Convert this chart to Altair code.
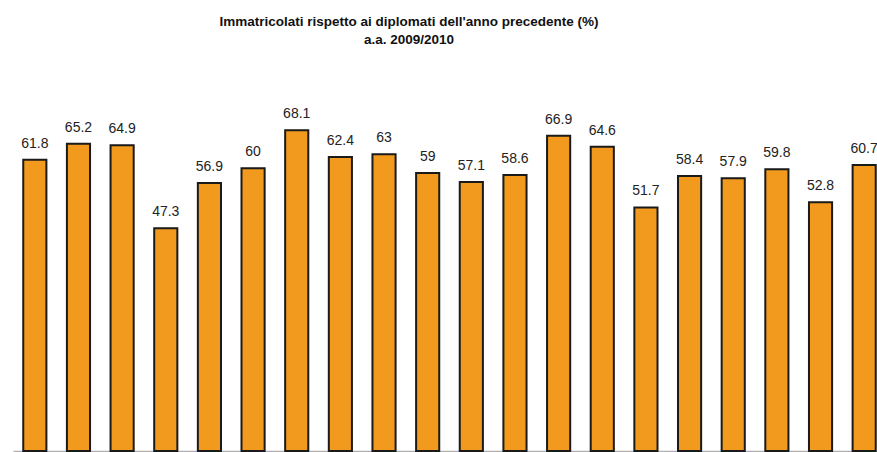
import altair as alt
import pandas as pd

regioni = ["Piemonte", "Valle d'Aosta", "Lombardia", "Trentino-Alto Adige", "Veneto",
           "Friuli-Venezia Giulia", "Liguria", "Emilia-Romagna", "Toscana", "Umbria",
           "Marche", "Lazio", "Abruzzo", "Molise", "Campania", "Puglia", "Basilicata",
           "Calabria", "Sicilia", "Sardegna"]
valori = [61.8, 65.2, 64.9, 47.3, 56.9, 60, 68.1, 62.4, 63, 59,
          57.1, 58.6, 66.9, 64.6, 51.7, 58.4, 57.9, 59.8, 52.8, 60.7]

df = pd.DataFrame({"regione": regioni, "valore": valori})

x = alt.X("regione:N", sort=regioni,
          scale=alt.Scale(range=[0, 873], paddingInner=0.47, paddingOuter=0.235),
          axis=alt.Axis(labels=False, ticks=False, title=None, domain=True,
                        domainColor="#b0b0b0", domainWidth=1.5, grid=False))
y = alt.Y("valore:Q", scale=alt.Scale(domain=[0, 83.0], nice=False, zero=True),
          axis=None)

bars = alt.Chart(df).mark_bar(color="#F29A1E", stroke="#1a1a1a", strokeWidth=2).encode(x=x, y=y)
labels = alt.Chart(df).mark_text(baseline="bottom", dy=-9, fontSize=14,
                                  font="Liberation Sans", color="#222222").encode(
    x=alt.X("regione:N", sort=regioni), y="valore:Q", text="valore:Q")

chart = alt.layer(bars, labels).properties(
    width=864, height=391,
    title=alt.Title(
        text="Immatricolati rispetto ai diplomati dell'anno precedente (%)",
        subtitle="a.a. 2009/2010",
        anchor="middle", dx=-36, offset=14,
        font="Liberation Sans", fontSize=13.5, fontWeight="bold", color="#111111",
        subtitleFont="Liberation Sans", subtitleFontSize=13.5,
        subtitleFontWeight="bold", subtitleColor="#111111", subtitlePadding=4,
    ),
    autosize=alt.AutoSizeParams(type="none"),
    padding={"left": 13, "top": 60, "right": 0, "bottom": 1},
    background="white",
).configure_view(stroke=None)

chart.save("out.html", embed_options={"renderer": "svg", "actions": False})
